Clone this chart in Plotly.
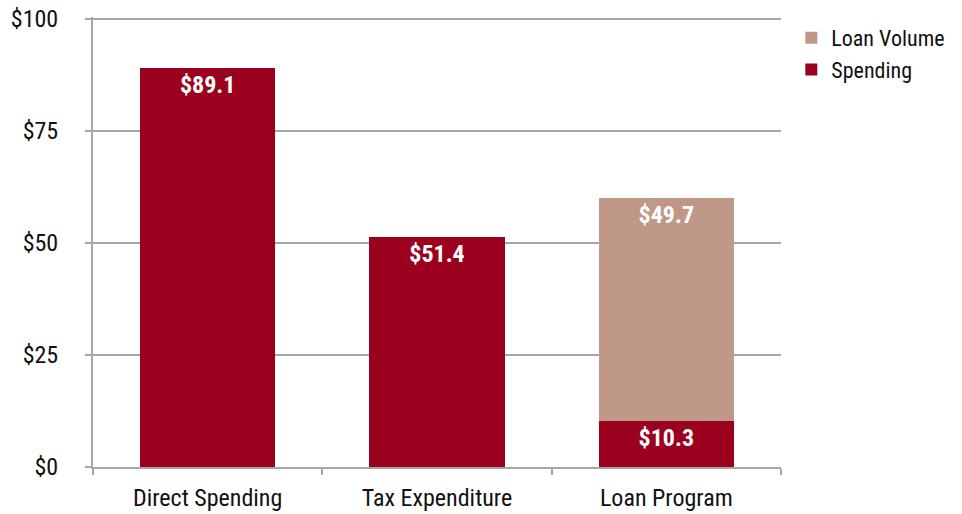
import plotly.graph_objects as go

categories = ["Direct Spending", "Tax Expenditure", "Loan Program"]
spending = [89.1, 51.4, 10.3]
loan_cats = ["Loan Program"]
loan_volume = [49.7]
y_ticks = [0, 25, 50, 75, 100]
y_tick_text = ["$0", "$25", "$50", "$75", "$100"]

FONT = "Roboto Condensed, Liberation Sans Narrow, DejaVu Sans Condensed, Arial Narrow, sans-serif"
RED = "#9b001e"
TAN = "#bf9887"

fig = go.Figure()
fig.add_trace(go.Bar(
    x=categories, y=spending, name="Spending",
    marker_color=RED, marker_line_width=0,
    texttemplate="$%{y:.1f}", textposition="inside", insidetextanchor="end",
    textfont=dict(color="white", size=24, family=FONT, weight="bold"),
))
fig.add_trace(go.Bar(
    x=loan_cats, y=loan_volume, name="Loan Volume",
    marker_color=TAN, marker_line_width=0,
    texttemplate="$%{y:.1f}", textposition="inside", insidetextanchor="end",
    textfont=dict(color="white", size=24, family=FONT, weight="bold"),
))

fig.update_layout(
    barmode="stack",
    bargap=0.41,
    width=962, height=514,
    margin=dict(l=93, r=178, t=17, b=47),
    plot_bgcolor="white", paper_bgcolor="white",
    font=dict(family=FONT, size=24, color="#111111"),
    uniformtext=dict(minsize=8, mode="show"),
    legend=dict(
        x=1.015, y=1.0, xanchor="left", yanchor="top",
        traceorder="reversed", font=dict(size=22),
        itemsizing="constant", tracegroupgap=4,
    ),
    showlegend=True,
)
fig.update_xaxes(
    categoryorder="array", categoryarray=categories,
    showline=True, linecolor="#a6a6a6", linewidth=2,
    ticks="outside", tickcolor="#a6a6a6", ticklen=6, tickwidth=2,
    tickson="boundaries", automargin=False, ticklabelstandoff=8,
    tickfont=dict(size=24),
)
fig.update_yaxes(
    range=[0, 100.4], tickvals=y_ticks, ticktext=y_tick_text,
    showgrid=True, gridcolor="#a6a6a6", gridwidth=2,
    showline=True, linecolor="#a6a6a6", linewidth=2,
    ticks="outside", tickcolor="#a6a6a6", ticklen=6, tickwidth=2,
    zeroline=False, automargin=False, ticklabelstandoff=22,
    ticklabeloverflow="allow",
    tickfont=dict(size=24),
)

# drop the default page margin so the figure sits at the window's corner
fig.write_html("out.html", config={"displayModeBar": False},
               post_script="document.body.style.margin='0';")
